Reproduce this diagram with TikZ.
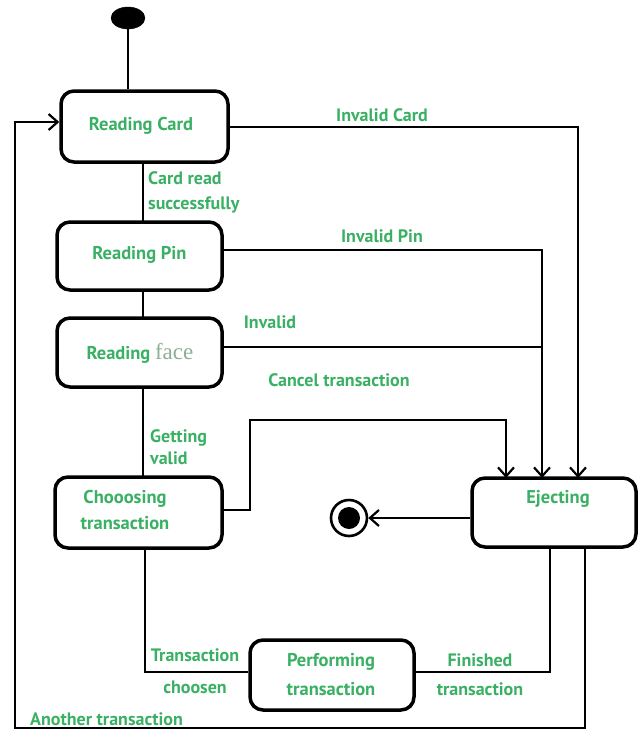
\documentclass[tikz,border=0pt]{standalone}
\usepackage{fontspec}
\setmainfont{PT Sans}
\newfontfamily\facefont{Liberation Serif}
\usetikzlibrary{arrows.meta,shapes.geometric}
\definecolor{lblgreen}{RGB}{58,176,100}
\definecolor{facegreen}{RGB}{140,175,150}
\tikzset{
  stbox/.style={draw=black, line width=3.5pt, rounded corners=13pt, fill=white, inner sep=0pt},
  conn/.style={draw=black, line width=2.6pt},
  arr/.style={conn, -{Straight Barb[length=9pt,width=16pt,line width=2.2pt]}},
  stname/.style={text=lblgreen, font=\bfseries\fontsize{18.5}{26}\selectfont, align=center},
  lbl/.style={text=lblgreen, font=\bfseries\fontsize{18}{25}\selectfont, inner sep=0pt},
}
\begin{document}
\begin{tikzpicture}[x=1pt,y=-1pt]
\useasboundingbox (0,0) rectangle (641,731);
% initial state
\node[draw=black, fill=black, ellipse, minimum width=34pt, minimum height=22pt, inner sep=0pt] (init) at (128,18) {};
% states
\node[stbox, minimum width=167pt, minimum height=71pt] (card) at (144.5,126.5) {};
\node[stname] (cardtxt) at (141,126) {Reading Card};
\node[stbox, minimum width=165pt, minimum height=68pt] (pin) at (139.5,256) {};
\node[stname] (pintxt) at (139.5,255) {Reading Pin};
\node[stbox, minimum width=165pt, minimum height=69pt] (face) at (139.5,352.5) {};
\node[stname] (facetxt) at (140,353) {Reading {\mdseries\facefont\fontsize{23}{26}\selectfont\color{facegreen}face}};
\node[stbox, minimum width=167pt, minimum height=71pt] (choose) at (138.5,512.5) {};
\node[stname] (choosetxt) at (125,510) {Chooosing\\transaction};
\node[stbox, minimum width=164pt, minimum height=69pt] (eject) at (554,512.5) {};
\node[stname] (ejecttxt) at (558,499) {Ejecting};
\node[stbox, minimum width=164pt, minimum height=70pt] (perform) at (332,675) {};
\node[stname, font=\bfseries\fontsize{18.5}{29}\selectfont] (performtxt) at (331,675) {Performing\\transaction};
% final state
\node[draw=black, line width=2.6pt, circle, minimum size=36pt, inner sep=0pt] (final) at (349,518) {};
\node[fill=black, circle, minimum size=22pt, inner sep=0pt] (finaldot) at (349,518) {};
% coordinates
\coordinate (c1) at (578,127);
\coordinate (c2) at (542,250);
\coordinate (c3) at (542,347);
\coordinate (c4a) at (250,510);
\coordinate (c4b) at (250,420);
\coordinate (c4c) at (506,420);
\coordinate (c5) at (145,672);
\coordinate (c6) at (550,672);
\coordinate (c7a) at (585,728);
\coordinate (c7b) at (15,728);
\coordinate (c7c) at (15,122);
% connectors
\draw[conn] (init) -- (init |- card.north);
\draw[conn] (143,162) -- (143,222);
\draw[conn] (143,290) -- (143,318);
\draw[conn] (143,387) -- (143,477);
\draw[arr] (card.east |- c1) -- (c1) -- (578,478);
\draw[arr] (pin.east |- c2) -- (c2) -- (542,478);
\draw[conn] (face.east |- c3) -- (c3);
\draw[arr] (choose.east |- c4a) -- (c4a) -- (c4b) -- (c4c) -- (506,478);
\draw[arr] (eject.west |- final) -- (final.east);
\draw[conn] (choose.south -| c5) -- (c5) -- (perform.west |- c5);
\draw[conn] (perform.east |- c6) -- (c6) -- (eject.south -| c6);
\draw[arr] (eject.south -| c7a) -- (c7a) -- (c7b) -- (c7c) -- (card.west |- c7c);
% labels
\node[lbl, anchor=west, align=left] (l1) at (148,192) {Card read\\successfully};
\node[lbl] (l2) at (382,115) {Invalid Card};
\node[lbl] (l3) at (382,236) {Invalid Pin};
\node[lbl] (l4) at (270,322) {Invalid};
\node[lbl] (l5) at (339,380) {Cancel transaction};
\node[lbl, anchor=west, align=left, font=\bfseries\fontsize{18}{22}\selectfont] (l6) at (150,447) {Getting\\valid};
\node[lbl, align=center, font=\bfseries\fontsize{18}{32}\selectfont] (l7) at (195,671) {Transaction\\choosen};
\node[lbl, align=center, font=\bfseries\fontsize{18}{29}\selectfont] (l8) at (480,675) {Finished\\transaction};
\node[lbl, anchor=west] (l9) at (30,719) {Another transaction};
\end{tikzpicture}
\end{document}
